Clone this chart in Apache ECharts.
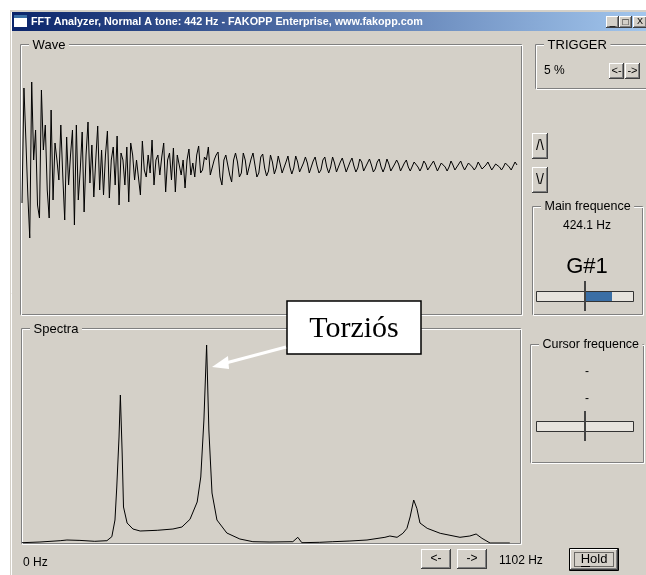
<!DOCTYPE html>
<html>
<head>
<meta charset="utf-8">
<title>FFT Analyzer</title>
<script src="https://cdn.jsdelivr.net/npm/echarts@6/dist/echarts.min.js"></script>
<style>
  html, body { margin: 0; padding: 0; background: #fff; }
  #chart { width: 646px; height: 575px; }
</style>
</head>
<body>
<div id="chart"></div>
<script>
// wave samples (+ is up)
const waveValues = [
  -38, 77, 25, -30, -73, 83, 5, 35, -40, -53,
  75, 15, 40, -25, -53, 55, -35, 22, 5, -15,
  40, -10, -55, 28, -20, 10, 35, -60, 40, -35,
  -5, 33, -47, 10, 43, -18, 20, -32, 5, 39,
  -25, 15, -30, 10, 34, -33, 5, 18, -20, 29,
  -40, 12, 5, -20, 18, -37, 22, 10, -15, 5,
  5, -30, 24, -5, -12, 10, -8, 25, -20, 5,
  10, -10, 8, 22, -27, 5, 12, -15, 17, -27,
  10, 8, -10, 5, -23, 5, 16, -10, 2, -12,
  10, 19, -8, -5, 8, 5, 18, -10, -8, 5,
  10, 13, -12, -20, 5, 10, 8, -10, -17, 5,
  12, 3, -12, -8, 12, 5, -10, -12, 6, 12,
  0, -12, -8, 8, 11, -3, -11, -6, 10, 3,
  -9, -3, 9, 1, -8, -7, 3, 9, -2, -9,
  -3, 9, 3, -7, -8, 2, 8, 2, -8, -6,
  4, 8, -1, -8, -5, 5, 8, -2, -8, -2,
  8, 2, -7, -6, 3, 7, 0, -7, -5, 3,
  7, -1, -7, -3, 6, 3, -6, -6, 2, 6,
  0, -7, -4, 3, 6, -2, -7, -2, 6, 1,
  -6, -6, 1, 5, 1, -6, -5, 2, 5, -2,
  -6, -4, 3, 5, -2, -6, -2, 4, 1, -5,
  -6, 1, 4, -1, -6, -4, 2, 4, -2, -6,
  -2, 4, 0, -5, -5, 1, 4, -1, -5, -4,
  2, 4, -2, -5, -2, 3, 1, -4, -5, 0,
  3, -1, -5, -4, 1, 3, -2, -5, -2, 2,
  3, -2, -5, -3, 3, 0
];

// spectrum: frequency (Hz) and amplitude
const spectraFreq = [
  0, 40, 85, 100, 129, 162, 189, 200, 207, 211,
  216, 219, 223, 226, 234, 247, 263, 301, 336, 356,
  374, 390, 398, 405, 411, 416, 423, 434, 456, 485,
  514, 552, 603, 614, 623, 663, 692, 730, 768, 808,
  819, 835, 848, 857, 864, 872, 879, 886, 902, 931,
  975, 997, 1011, 1024, 1042, 1086
];
const spectraAmp = [
  0.3, 1, 2.3, 3, 2.6, 1.7, 2.3, 6.3, 23, 56,
  106, 148, 90, 36, 20, 14, 12, 12.7, 14, 16,
  23.7, 41, 66, 123, 198, 113, 50, 23, 10, 4,
  1.3, 1, 1.3, 5.7, 0.3, 0.7, 1.3, 2, 3, 5.7,
  7, 5.7, 9.7, 14.7, 26, 43, 34.7, 20, 14.7, 9.7,
  5.7, 7, 9, 4.7, 0, 0
];

const freqLabels = ["0 Hz", "1102 Hz"];
const titleText = "FFT Analyzer, Normal A tone: 442 Hz - FAKOPP Enterprise, www.fakopp.com";
const triggerText = "5 %";
const mainFreqText = "424.1 Hz";
const noteText = "G#1";
const cursorTexts = ["-", "-"];
const calloutText = "Torziós";

const UI_FONT = '"Liberation Sans", Arial, sans-serif';
const FACE = "#D4D0C8";
const SHADOW = "#808080";
const DARK = "#404040";

function txt(x, y, text, size, opt) {
  opt = opt || {};
  return {
    type: "text",
    x: x,
    y: y,
    z: opt.z || 10,
    scaleX: opt.scaleX || 1,
    style: {
      text: text,
      font: (opt.weight || "normal") + " " + size + "px " + (opt.family || UI_FONT),
      fill: opt.color || "#000",
      textAlign: opt.align || "left",
      align: opt.align || "left",
      textVerticalAlign: "middle",
      verticalAlign: "middle",
    },
  };
}

function line(x1, y1, x2, y2, color, w, z) {
  return {
    type: "line",
    z: z || 5,
    shape: { x1: x1, y1: y1, x2: x2, y2: y2 },
    style: { stroke: color, lineWidth: w || 1 },
  };
}

function rect(x, y, w, h, fill, z) {
  return { type: "rect", z: z || 1, shape: { x: x, y: y, width: w, height: h }, style: { fill: fill } };
}

// etched group box with a caption on the top line
function groupBox(x, y, w, h, label, size) {
  const els = [
    { type: "rect", z: 4, shape: { x: x + 0.5, y: y + 0.5, width: w, height: h }, style: { fill: "none", stroke: SHADOW, lineWidth: 1 } },
    { type: "rect", z: 4, shape: { x: x + 1.5, y: y + 1.5, width: w, height: h }, style: { fill: "none", stroke: "#fff", lineWidth: 1 } },
  ];
  const t = txt(x + 9, y + 1, " " + label + " ", size || 13);
  t.style.backgroundColor = FACE;
  t.z = 6;
  els.push(t);
  return els;
}

// raised windows button
function button(x, y, w, h, label, size) {
  return [
    rect(x, y, w, h, FACE, 6),
    line(x + 0.5, y, x + 0.5, y + h, "#fff", 1, 7),
    line(x, y + 0.5, x + w, y + 0.5, "#fff", 1, 7),
    line(x + w - 1.5, y + 1, x + w - 1.5, y + h, SHADOW, 1, 7),
    line(x + 1, y + h - 1.5, x + w, y + h - 1.5, SHADOW, 1, 7),
    line(x + w - 0.5, y, x + w - 0.5, y + h, DARK, 1, 7),
    line(x, y + h - 0.5, x + w, y + h - 0.5, DARK, 1, 7),
    txt(x + w / 2, y + h / 2, label, size || 12, { align: "center", z: 8 }),
  ];
}

function slider(x, y, w, h, fillFrom, fillTo, markX) {
  const els = [
    { type: "rect", z: 6, shape: { x: x + 0.5, y: y + 0.5, width: w, height: h }, style: { fill: "#E6E3DD", stroke: "#333", lineWidth: 1 } },
  ];
  if (fillTo > fillFrom) {
    els.push(rect(fillFrom, y + 1, fillTo - fillFrom, h - 1, "#3A6EA5", 7));
  }
  els.push(line(markX, y - 10, markX, y + h + 10, "#444", 2, 8));
  return els;
}

let graphics = [];
// page, window face and title bar
graphics.push(rect(10, 10, 650, 580, FACE, 0));
graphics.push(line(11.5, 12, 11.5, 575, "#fff", 1, 2));
graphics.push({
  type: "rect",
  z: 2,
  shape: { x: 12, y: 12, width: 650, height: 19 },
  style: {
    fill: new echarts.graphic.LinearGradient(0, 0, 1, 0, [
      { offset: 0, color: "#0A246A" },
      { offset: 1, color: "#A6CAF0" },
    ]),
  },
});
graphics.push(rect(14, 15, 13, 12, "#fff", 3));
graphics.push(rect(14, 15, 13, 3, "#3A6EA5", 3));
graphics.push(txt(31, 22, titleText, 11, { weight: "bold", color: "#fff", scaleX: 0.98 }));
graphics = graphics.concat(button(606, 16, 13, 12, "_", 10));
graphics = graphics.concat(button(619, 16, 13, 12, "□", 10));
graphics = graphics.concat(button(633, 16, 14, 12, "X", 9));

// frames
graphics = graphics.concat(groupBox(20, 44, 501, 270, "Wave", 13));
graphics = graphics.concat(groupBox(21, 328, 499, 215, "Spectra", 13));
graphics = graphics.concat(groupBox(535, 44, 130, 44, "TRIGGER", 13));
graphics = graphics.concat(groupBox(532, 206, 110, 108, "Main frequence", 12.5));
graphics = graphics.concat(groupBox(530, 344, 113, 118, "Cursor frequence", 12.5));

// right panel controls
graphics.push(txt(544, 71, triggerText, 12));
graphics = graphics.concat(button(609, 63, 15, 16, "<-", 11));
graphics = graphics.concat(button(625, 63, 15, 16, "->", 11));
graphics = graphics.concat(button(532, 133, 16, 26, "/\\", 14));
graphics = graphics.concat(button(532, 167, 16, 26, "\\/", 14));
graphics.push(txt(587, 226, mainFreqText, 12, { align: "center" }));
graphics.push(txt(587, 267, noteText, 22, { align: "center" }));
graphics = graphics.concat(slider(536, 291, 97, 10, 585, 612, 585));
graphics.push(txt(587, 372, cursorTexts[0], 12, { align: "center" }));
graphics.push(txt(587, 399, cursorTexts[1], 12, { align: "center" }));
graphics = graphics.concat(slider(536, 421, 97, 10, 0, 0, 585));

// bottom row
graphics.push(txt(23, 563, freqLabels[0], 12));
graphics = graphics.concat(button(421, 549, 30, 20, "<-", 12));
graphics = graphics.concat(button(457, 549, 30, 20, "->", 12));
graphics.push(txt(499, 561, freqLabels[1], 12));
graphics.push({ type: "rect", z: 6, shape: { x: 569.5, y: 548.5, width: 49, height: 22 }, style: { fill: FACE, stroke: "#000", lineWidth: 1 } });
graphics = graphics.concat(button(570, 549, 48, 21, "", 12));
graphics.push({ type: "rect", z: 9, shape: { x: 574.5, y: 552.5, width: 39, height: 14 }, style: { fill: "none", stroke: "#000", lineWidth: 1, lineDash: [1, 1] } });
graphics.push(txt(594, 559, "Hold", 13, { align: "center", z: 10 }));
graphics.push(line(581, 566.5, 590, 566.5, "#000", 1, 10));

// callout
graphics.push({ type: "rect", z: 50, shape: { x: 287, y: 301, width: 134, height: 53 }, style: { fill: "#fff", stroke: "#000", lineWidth: 1.5 } });
graphics.push(txt(354, 329, calloutText, 30, { align: "center", family: '"Liberation Serif", "Times New Roman", serif', z: 51 }));
graphics.push(line(286, 347, 222, 364, "#fff", 3, 50));
graphics.push({ type: "polygon", z: 50, shape: { points: [[212, 367], [228, 356], [229, 369]] }, style: { fill: "#fff" } });

const chartDom = document.getElementById("chart");
const myChart = echarts.init(chartDom, null, { renderer: "canvas" });

const option = {
  animation: false,
  backgroundColor: "#fff",
  grid: [
    { left: 22, width: 495, top: 65, height: 200 },
    { left: 22, width: 495, top: 343, height: 200 },
  ],
  xAxis: [
    { type: "value", gridIndex: 0, min: 0, max: waveValues.length - 1, show: false },
    { type: "value", gridIndex: 1, min: 0, max: 1102, show: false },
  ],
  yAxis: [
    { type: "value", gridIndex: 0, min: -100, max: 100, show: false },
    { type: "value", gridIndex: 1, min: 0, max: 200, show: false },
  ],
  graphic: { elements: graphics },
  series: [
    {
      name: "Wave",
      type: "line",
      xAxisIndex: 0,
      yAxisIndex: 0,
      data: waveValues.map((v, i) => [i, v]),
      symbol: "none",
      z: 20,
      lineStyle: { color: "#000", width: 1 },
    },
    {
      name: "Spectra",
      type: "line",
      xAxisIndex: 1,
      yAxisIndex: 1,
      data: spectraFreq.map((f, i) => [f, spectraAmp[i]]),
      symbol: "none",
      z: 20,
      lineStyle: { color: "#000", width: 1 },
    },
  ],
};
option && myChart.setOption(option);
</script>
</body>
</html>
